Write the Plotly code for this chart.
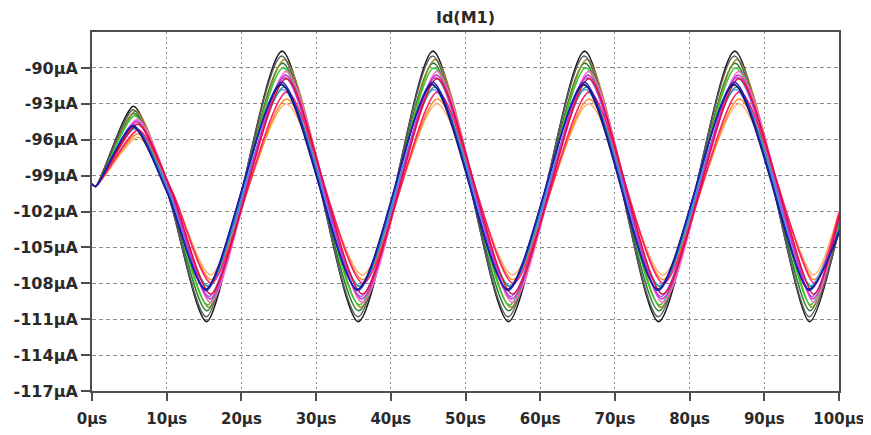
import plotly.graph_objects as go

# Time (µs) of the points: start, small dip, extremes, end
times_us = [0, 0.5, 5.8, 10.4, 15.6, 25.7, 35.9, 45.9, 56.0, 66.2, 76.1, 86.3, 96.3, 100]

# Monte-Carlo runs of Id(M1): colour, first peak, steady peak, steady trough, end value (µA)
run_colors = ["#1a1a1a", "#2e7d32", "#9a8a20", "#33cc33", "#5a5a5a", "#ffb070", "#ff8c1a",
              "#4da6ff", "#2a9d9d", "#9966ff", "#ff66cc", "#cc33cc", "#ff1f6e", "#e0103a",
              "#101060", "#1f1fbf"]
first_peak = [-93.2, -93.8, -93.6, -94.0, -93.5, -95.8, -95.5, -95.1, -95.0, -94.4, -94.3,
              -94.5, -95.2, -94.7, -94.9, -94.8]
peak_val = [-88.6, -89.6, -89.3, -90.0, -89.0, -93.0, -92.6, -91.8, -91.6, -90.8, -90.3,
            -90.6, -92.0, -90.9, -91.4, -91.2]
trough_val = [-111.2, -110.3, -110.0, -109.8, -110.8, -107.3, -107.7, -108.2, -108.3, -109.1,
              -109.6, -109.3, -108.0, -108.9, -108.5, -108.6]
end_val = [-103.4, -103.2, -103.0, -103.0, -103.6, -102.0, -102.2, -102.8, -103.0, -102.6,
           -102.3, -102.5, -102.1, -102.4, -103.8, -103.6]
# small per-run time lag of the waveform (µs), read from the spread of the slopes
lag_us = [-0.25, -0.2, 0.05, -0.1, -0.3, 0.3, 0.35, -0.15, 0.0, 0.1, 0.3, 0.2, 0.4, 0.3,
          -0.35, -0.3]
start_val = -99.7
dip_val = -99.9
first_fall_val = -100.4

y_ticks = [-90, -93, -96, -99, -102, -105, -108, -111, -114, -117]
y_tick_text = ["-90µA", "-93µA", "-96µA", "-99µA", "-102µA", "-105µA", "-108µA", "-111µA",
               "-114µA", "-117µA"]
x_ticks = [0, 10, 20, 30, 40, 50, 60, 70, 80, 90, 100]
x_tick_text = ["0µs", "10µs", "20µs", "30µs", "40µs", "50µs", "60µs", "70µs", "80µs", "90µs",
               "100µs"]

fig = go.Figure()
for i, col in enumerate(run_colors):
    ys = [start_val, dip_val, first_peak[i], first_fall_val, trough_val[i],
          peak_val[i], trough_val[i], peak_val[i], trough_val[i],
          peak_val[i], trough_val[i], peak_val[i], trough_val[i], end_val[i]]
    xs = times_us[:2] + [t + lag_us[i] for t in times_us[2:-1]] + times_us[-1:]
    fig.add_trace(go.Scatter(
        x=xs, y=ys, mode="lines",
        line=dict(color=col, width=1.6, shape="spline", smoothing=0.7),
        showlegend=False, hoverinfo="skip"))

font_fam = "DejaVu Sans"
txt_col = "#2a2a2a"
axis_col = "#4d4d4d"

# the page body adds an 8 px offset; the figure is sized to fill the rest of the window
W, H = 863, 427
fig.update_layout(
    width=W, height=H,
    margin=dict(l=84, r=32, t=24, b=44, autoexpand=False),
    paper_bgcolor="white", plot_bgcolor="white",
    title=dict(text="<b>Id(M1)</b>", x=0.5, xref="paper", xanchor="center",
               y=1 - 9 / H, yref="container", yanchor="middle", automargin=False,
               font=dict(family=font_fam, size=16, color=txt_col)),
    showlegend=False,
)
fig.update_xaxes(
    range=[0, 100], tickvals=x_ticks, ticktext=["<b>%s</b>" % t for t in x_tick_text],
    showgrid=True, gridcolor="#8c8c8c", gridwidth=1.2, griddash="2px,3px",
    showline=True, linecolor=axis_col, linewidth=2, mirror=True,
    ticks="outside", ticklen=8, tickwidth=1.5, tickcolor=axis_col, automargin=False,
    ticklabelstandoff=5,
    tickfont=dict(family=font_fam, size=15, color=txt_col), zeroline=False,
)
fig.update_yaxes(
    range=[-117, -87], tickvals=y_ticks, ticktext=["<b>%s</b>" % t for t in y_tick_text],
    showgrid=True, gridcolor="#8c8c8c", gridwidth=1.2, griddash="4px,3px",
    showline=True, linecolor=axis_col, linewidth=2, mirror=True,
    ticks="outside", ticklen=9, tickwidth=1.5, tickcolor=axis_col, automargin=False,
    tickfont=dict(family=font_fam, size=16, color=txt_col), zeroline=False,
)

fig.write_html("out.html")
